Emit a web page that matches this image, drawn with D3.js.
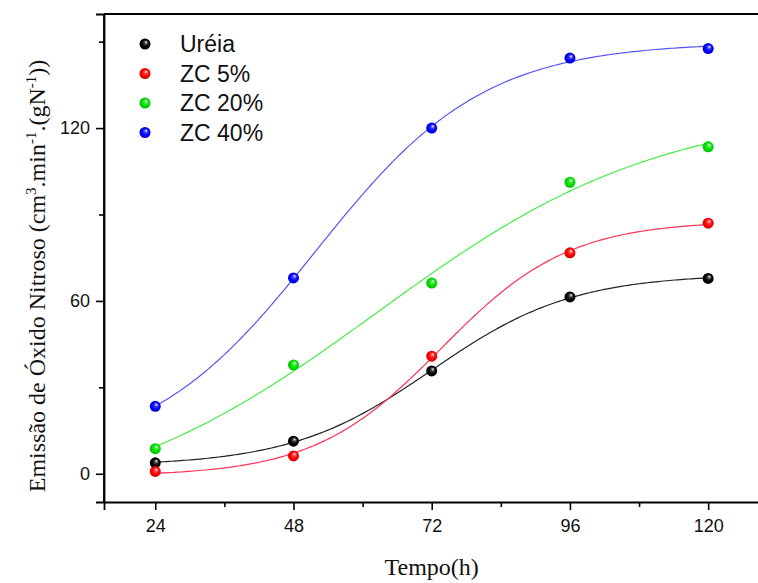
<!DOCTYPE html>
<html>
<head>
<meta charset="utf-8">
<script src="https://cdn.jsdelivr.net/npm/d3@7/dist/d3.min.js"></script>
<style>
  html, body { margin: 0; padding: 0; background: #fff; }
  svg { display: block; }
</style>
</head>
<body>
<svg id="chart" width="758" height="583"></svg>
<script>
// Sampling times (h)
const hours = [24, 48, 72, 96, 120];

// N2O emission per treatment, cm3.min-1.(gN-1)
const ureia = [3.8, 11.3, 35.7, 61.4, 67.8];
const zc5   = [0.8, 6.2, 40.8, 76.7, 87.0];
const zc20  = [8.7, 37.8, 66.2, 101.2, 113.5];
const zc40  = [23.4, 68.0, 120.0, 144.3, 147.6];

const seriesNames = ["Uréia", "ZC 5%", "ZC 20%", "ZC 40%"];
const seriesValues = [ureia, zc5, zc20, zc40];
const markerColors = ["#000000", "#ff0000", "#00e000", "#0000ff"];
const lineColors = ["#222222", "#ff3355", "#44ee44", "#5555ee"];

const xTicks = [24, 48, 72, 96, 120];
const yTicks = [0, 60, 120];

const svg = d3.select("#chart");
const margin = { left: 104, top: 14, right: -2, bottom: 81 };
const W = 758, H = 583;

const x = d3.scaleLinear().domain([15.1, 129.0]).range([margin.left, W - margin.right]);
const y = d3.scaleLinear().domain([-9.8, 159.6]).range([H - margin.bottom, margin.top]);

// Sphere-like marker shading
const defs = svg.append("defs");
markerColors.forEach((c, i) => {
  const g = defs.append("radialGradient")
    .attr("id", "ball" + i)
    .attr("cx", "0.5").attr("cy", "0.5").attr("r", "0.55")
    .attr("fx", "0.62").attr("fy", "0.32");
  g.append("stop").attr("offset", "0").attr("stop-color", "#ffffff");
  g.append("stop").attr("offset", "0.28").attr("stop-color", d3.interpolateRgb("#ffffff", c)(0.75));
  g.append("stop").attr("offset", "0.6").attr("stop-color", c);
  g.append("stop").attr("offset", "1").attr("stop-color", d3.color(c).darker(0.6));
});

// Boltzmann sigmoid fitted by least squares (Nelder-Mead)
function boltzmann(p, t) {
  return p[1] + (p[0] - p[1]) / (1 + Math.exp((t - p[2]) / p[3]));
}
function fitBoltzmann(xs, ys) {
  const sse = p => d3.sum(xs, (t, i) => (boltzmann(p, t) - ys[i]) ** 2);
  const n = 4;
  let start = [ys[0] - 5, ys[ys.length - 1] + 5, 70, 15];
  let simplex = [start];
  const steps = [10, 10, 10, 5];
  for (let i = 0; i < n; i++) {
    const p = start.slice();
    p[i] += steps[i];
    simplex.push(p);
  }
  let vals = simplex.map(sse);
  for (let it = 0; it < 6000; it++) {
    const order = d3.range(n + 1).sort((a, b) => vals[a] - vals[b]);
    simplex = order.map(k => simplex[k]);
    vals = order.map(k => vals[k]);
    const centroid = d3.range(n).map(j => d3.mean(simplex.slice(0, n), p => p[j]));
    const worst = simplex[n];
    const refl = centroid.map((c, j) => c + (c - worst[j]));
    const fr = sse(refl);
    if (fr < vals[0]) {
      const exp = centroid.map((c, j) => c + 2 * (c - worst[j]));
      const fe = sse(exp);
      if (fe < fr) { simplex[n] = exp; vals[n] = fe; }
      else { simplex[n] = refl; vals[n] = fr; }
    } else if (fr < vals[n - 1]) {
      simplex[n] = refl; vals[n] = fr;
    } else {
      const con = centroid.map((c, j) => c + 0.5 * (worst[j] - c));
      const fc = sse(con);
      if (fc < vals[n]) { simplex[n] = con; vals[n] = fc; }
      else {
        for (let k = 1; k <= n; k++) {
          simplex[k] = simplex[k].map((v, j) => simplex[0][j] + 0.5 * (v - simplex[0][j]));
          vals[k] = sse(simplex[k]);
        }
      }
    }
  }
  const best = d3.range(n + 1).reduce((a, b) => vals[a] <= vals[b] ? a : b);
  return simplex[best];
}

// Fitted curves
const line = d3.line().x(d => x(d[0])).y(d => y(d[1]));
seriesValues.forEach((vals, i) => {
  const p = fitBoltzmann(hours, vals);
  const pts = d3.range(0, 201).map(k => {
    const t = hours[0] + (hours[hours.length - 1] - hours[0]) * k / 200;
    return [t, boltzmann(p, t)];
  });
  svg.append("path")
    .attr("d", line(pts))
    .attr("fill", "none")
    .attr("stroke", lineColors[i])
    .attr("stroke-width", 1.2);
});

// Data markers
seriesValues.forEach((vals, i) => {
  svg.append("g").selectAll("circle")
    .data(vals)
    .join("circle")
    .attr("cx", (d, k) => x(hours[k]))
    .attr("cy", d => y(d))
    .attr("r", 5.5)
    .attr("fill", `url(#ball${i})`);
});

// Frame
const frame = svg.append("g").attr("stroke", "#000").attr("stroke-width", 1.8).attr("fill", "none");
frame.append("line").attr("x1", x.range()[0]).attr("x2", x.range()[0]).attr("y1", y.range()[0]).attr("y2", y.range()[1]);
frame.append("line").attr("x1", x.range()[0]).attr("x2", W + 2).attr("y1", y.range()[1]).attr("y2", y.range()[1]);

// Bottom axis with minor ticks
svg.append("g")
  .attr("transform", `translate(0,${y.range()[0]})`)
  .call(d3.axisBottom(x).tickValues(xTicks).tickSize(8).tickPadding(9).tickFormat(d3.format("d")));
svg.append("g")
  .attr("transform", `translate(0,${y.range()[0]})`)
  .call(d3.axisBottom(x).tickValues(d3.range(36, 129, 24)).tickSize(5).tickFormat(""))
  .call(g => g.select(".domain").remove());

// Left axis with minor ticks
svg.append("g")
  .attr("transform", `translate(${x.range()[0]},0)`)
  .call(d3.axisLeft(y).tickValues(yTicks).tickSize(8).tickPadding(6).tickFormat(d3.format("d")));
svg.append("g")
  .attr("transform", `translate(${x.range()[0]},0)`)
  .call(d3.axisLeft(y).tickValues([30, 90, 150]).tickSize(5).tickFormat(""))
  .call(g => g.select(".domain").remove());

svg.selectAll(".domain").attr("stroke-width", 1.8).attr("stroke", "#000");
svg.selectAll(".tick line").attr("stroke-width", 1.6).attr("stroke", "#000");
svg.selectAll(".tick text")
  .attr("font-family", "'Liberation Sans', Arial, sans-serif")
  .attr("font-size", 18)
  .attr("fill", "#111");

// Axis titles
svg.append("text")
  .attr("x", x(72))
  .attr("y", 575)
  .attr("text-anchor", "middle")
  .attr("font-family", "'Liberation Serif', 'Times New Roman', serif")
  .attr("font-size", 24)
  .attr("fill", "#111")
  .text("Tempo(h)");

const yt = svg.append("text")
  .attr("transform", `translate(45,276) rotate(-90)`)
  .attr("text-anchor", "middle")
  .attr("font-family", "'Liberation Serif', 'Times New Roman', serif")
  .attr("font-size", 24)
  .attr("fill", "#111");
yt.append("tspan").text("Emissão de Óxido Nitroso (cm");
yt.append("tspan").attr("font-size", 15).attr("dy", -9).text("3");
yt.append("tspan").attr("dy", 9).text(".min");
yt.append("tspan").attr("font-size", 15).attr("dy", -9).text("-1");
yt.append("tspan").attr("dy", 9).text(".(gN");
yt.append("tspan").attr("font-size", 15).attr("dy", -9).text("-1");
yt.append("tspan").attr("dy", 9).text("))");

// Legend
const legend = svg.append("g");
seriesNames.forEach((name, i) => {
  const ly = 44 + i * 29.5;
  legend.append("circle")
    .attr("cx", 145).attr("cy", ly).attr("r", 5.5)
    .attr("fill", `url(#ball${i})`);
  legend.append("text")
    .attr("x", 180).attr("y", ly + 8)
    .attr("font-family", "'Liberation Sans', Arial, sans-serif")
    .attr("font-size", 23)
    .attr("fill", "#111")
    .text(name);
});
</script>
</body>
</html>
